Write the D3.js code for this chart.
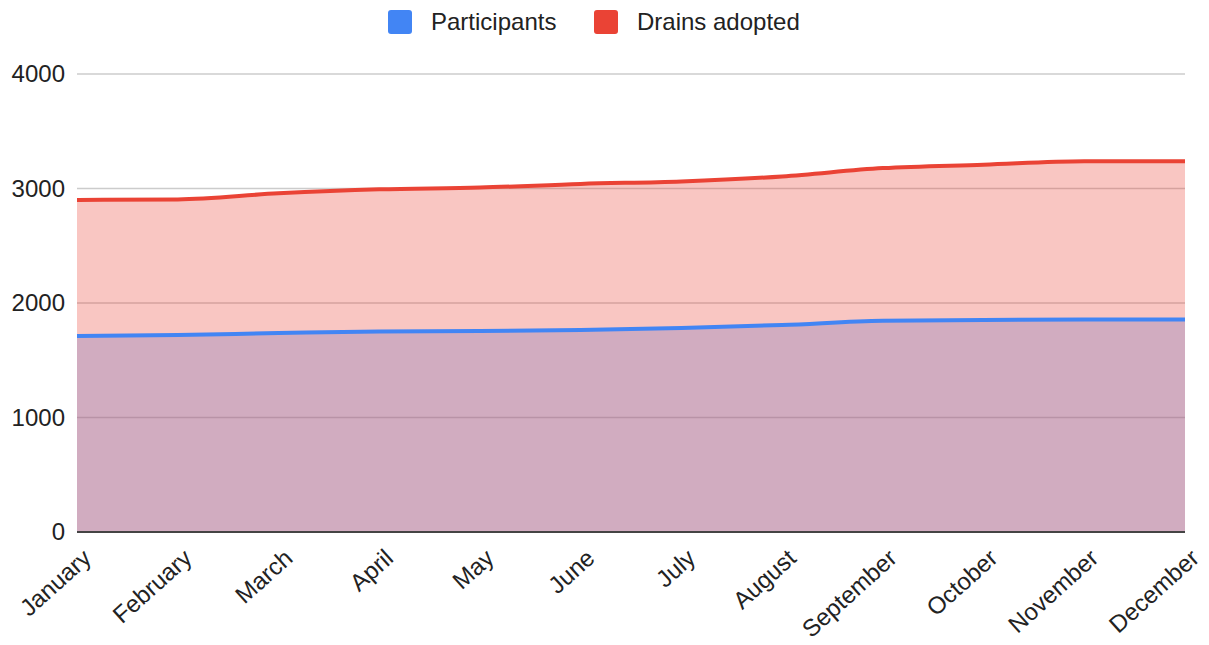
<!DOCTYPE html>
<html>
<head>
<meta charset="utf-8">
<script src="https://cdn.jsdelivr.net/npm/d3@7"></script>
<style>
  html, body { margin: 0; padding: 0; background: #fff; }
  svg { display: block; font-family: "Liberation Sans", Arial, sans-serif; }
</style>
</head>
<body>
<div id="chart"></div>
<script>
// ---- Data ----
const months = ['January', 'February', 'March', 'April', 'May', 'June',
  'July', 'August', 'September', 'October', 'November', 'December'];
const participants = [1712, 1720, 1738, 1752, 1755, 1765, 1782, 1808, 1845, 1852, 1855, 1855];
const drainsAdopted = [2900, 2905, 2958, 2993, 3008, 3040, 3062, 3105, 3178, 3208, 3238, 3238];
const yTicks = [0, 1000, 2000, 3000, 4000];

const seriesNames = ['Participants', 'Drains adopted'];
const seriesColors = ['#4285f4', '#ea4335'];

// ---- Dimensions ----
const width = 1209, height = 645;
const margin = { top: 74, right: 24, bottom: 113, left: 77 };

const svg = d3.select('#chart').append('svg')
  .attr('width', width)
  .attr('height', height);

const x = d3.scalePoint()
  .domain(months)
  .range([margin.left, width - margin.right]);

const y = d3.scaleLinear()
  .domain([0, 4000])
  .range([height - margin.bottom, margin.top]);

// ---- Gridlines ----
svg.append('g')
  .selectAll('line')
  .data(yTicks.filter(d => d > 0))
  .join('line')
  .attr('x1', margin.left)
  .attr('x2', width - margin.right)
  .attr('y1', d => y(d))
  .attr('y2', d => y(d))
  .attr('stroke', '#cccccc')
  .attr('stroke-width', 1.5);

// ---- Areas + lines ----
const series = [participants, drainsAdopted];

const area = d3.area()
  .x((d, i) => x(months[i]))
  .y0(y(0))
  .y1(d => y(d))
  .curve(d3.curveMonotoneX);

const line = d3.line()
  .x((d, i) => x(months[i]))
  .y(d => y(d))
  .curve(d3.curveMonotoneX);

svg.append('g')
  .selectAll('path')
  .data(series)
  .join('path')
  .attr('d', area)
  .attr('fill', (d, i) => seriesColors[i])
  .attr('fill-opacity', 0.3);

svg.append('g')
  .selectAll('path')
  .data(series)
  .join('path')
  .attr('d', line)
  .attr('fill', 'none')
  .attr('stroke', (d, i) => seriesColors[i])
  .attr('stroke-width', 4)
  .attr('stroke-linejoin', 'round');

// baseline
svg.append('line')
  .attr('x1', margin.left)
  .attr('x2', width - margin.right)
  .attr('y1', y(0))
  .attr('y2', y(0))
  .attr('stroke', '#444')
  .attr('stroke-width', 2);

// ---- Y axis labels ----
svg.append('g')
  .selectAll('text')
  .data(yTicks)
  .join('text')
  .attr('x', margin.left - 12)
  .attr('y', d => y(d))
  .attr('dy', '0.35em')
  .attr('text-anchor', 'end')
  .attr('font-size', 24)
  .attr('fill', '#222')
  .text(d => d);

// ---- X axis labels (slanted) ----
svg.append('g')
  .selectAll('text')
  .data(months)
  .join('text')
  .attr('transform', d => `translate(${x(d) + 10},${y(0) + 22}) rotate(-42)`)
  .attr('text-anchor', 'end')
  .attr('dy', '0.35em')
  .attr('font-size', 24)
  .attr('fill', '#222')
  .text(d => d);

// ---- Legend ----
const legendItems = [
  { name: seriesNames[0], color: seriesColors[0], x: 388 },
  { name: seriesNames[1], color: seriesColors[1], x: 594 },
];
const legend = svg.append('g');
legend.selectAll('rect')
  .data(legendItems)
  .join('rect')
  .attr('x', d => d.x)
  .attr('y', 10)
  .attr('width', 24)
  .attr('height', 24)
  .attr('rx', 3)
  .attr('fill', d => d.color);
legend.selectAll('text')
  .data(legendItems)
  .join('text')
  .attr('x', d => d.x + 43)
  .attr('y', 22)
  .attr('dy', '0.35em')
  .attr('font-size', 24)
  .attr('fill', '#222')
  .text(d => d.name);
</script>
</body>
</html>
